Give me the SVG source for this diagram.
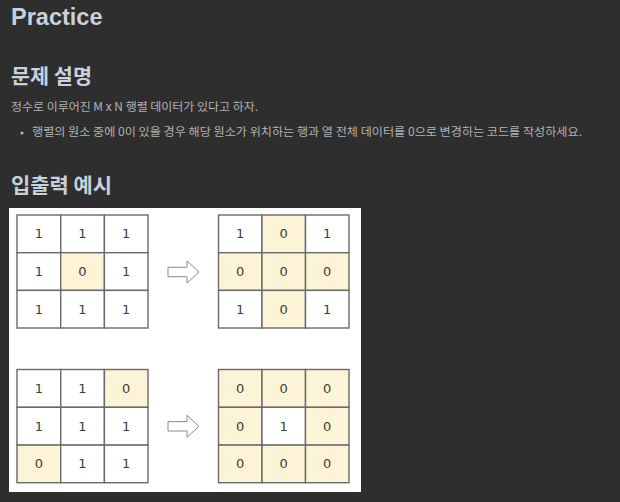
<svg xmlns="http://www.w3.org/2000/svg" width="620" height="502" viewBox="0 0 620 502">
<style>
.h1{font-family:"Liberation Sans","Noto Sans",sans-serif;font-weight:bold;font-size:23.5px;fill:#c9d1dc}
.h2{font-family:"Noto Sans CJK KR","Noto Sans",sans-serif;font-weight:bold;font-size:20.5px;fill:#c9d1dc}
.body{font-family:"Noto Sans CJK KR","Noto Sans",sans-serif;font-size:11.6px;fill:#b2b2b2}
.cell{fill:#ffffff;stroke:#6a6a6a;stroke-width:1.4}
.hi{fill:#fdf3d6;stroke:#6a6a6a;stroke-width:1.4}
.num{font-family:"DejaVu Sans",sans-serif;font-size:13px;fill:#3c3c3c;text-anchor:middle;dominant-baseline:central}
.arrow{fill:#ffffff;stroke:#8a8a8a;stroke-width:1}
</style>
<rect width="620" height="502" fill="#2e2e2e"/>
<text class="h1" x="11" y="25">Practice</text>
<text class="h2" x="11" y="84" textLength="81" lengthAdjust="spacingAndGlyphs">문제 설명</text>
<text class="body" x="11" y="111" textLength="247" lengthAdjust="spacingAndGlyphs">정수로 이루어진 M x N 행렬 데이터가 있다고 하자.</text>
<circle cx="22" cy="133" r="1.6" fill="#b2b2b2"/>
<text class="body" x="32" y="136" textLength="550" lengthAdjust="spacingAndGlyphs">행렬의 원소 중에 0이 있을 경우 해당 원소가 위치하는 행과 열 전체 데이터를 0으로 변경하는 코드를 작성하세요.</text>
<text class="h2" x="11" y="193" textLength="101" lengthAdjust="spacingAndGlyphs">입출력 예시</text>
<rect x="9" y="208" width="352" height="284" fill="#ffffff"/>

<g id="grid1-input">
<rect class="cell" x="17" y="215" width="43.7" height="37.7"/>
<rect class="cell" x="60.7" y="215" width="43.7" height="37.7"/>
<rect class="cell" x="104.4" y="215" width="43.6" height="37.7"/>
<rect class="cell" x="17" y="252.7" width="43.7" height="37.7"/>
<rect class="hi" x="60.7" y="252.7" width="43.7" height="37.7"/>
<rect class="cell" x="104.4" y="252.7" width="43.6" height="37.7"/>
<rect class="cell" x="17" y="290.4" width="43.7" height="37.6"/>
<rect class="cell" x="60.7" y="290.4" width="43.7" height="37.6"/>
<rect class="cell" x="104.4" y="290.4" width="43.6" height="37.6"/>
<text class="num" x="38.8" y="233.8">1</text><text class="num" x="82.5" y="233.8">1</text><text class="num" x="126.2" y="233.8">1</text>
<text class="num" x="38.8" y="271.5">1</text><text class="num" x="82.5" y="271.5">0</text><text class="num" x="126.2" y="271.5">1</text>
<text class="num" x="38.8" y="309.2">1</text><text class="num" x="82.5" y="309.2">1</text><text class="num" x="126.2" y="309.2">1</text>
</g>

<g id="grid1-output">
<rect class="cell" x="218.5" y="215" width="43.5" height="37.7"/>
<rect class="hi" x="262" y="215" width="43.5" height="37.7"/>
<rect class="cell" x="305.5" y="215" width="43.5" height="37.7"/>
<rect class="hi" x="218.5" y="252.7" width="43.5" height="37.7"/>
<rect class="hi" x="262" y="252.7" width="43.5" height="37.7"/>
<rect class="hi" x="305.5" y="252.7" width="43.5" height="37.7"/>
<rect class="cell" x="218.5" y="290.4" width="43.5" height="37.6"/>
<rect class="hi" x="262" y="290.4" width="43.5" height="37.6"/>
<rect class="cell" x="305.5" y="290.4" width="43.5" height="37.6"/>
<text class="num" x="240.2" y="233.8">1</text><text class="num" x="283.7" y="233.8">0</text><text class="num" x="327.2" y="233.8">1</text>
<text class="num" x="240.2" y="271.5">0</text><text class="num" x="283.7" y="271.5">0</text><text class="num" x="327.2" y="271.5">0</text>
<text class="num" x="240.2" y="309.2">1</text><text class="num" x="283.7" y="309.2">0</text><text class="num" x="327.2" y="309.2">1</text>
</g>

<g id="grid2-input">
<rect class="cell" x="17" y="369.5" width="43.7" height="37.8"/>
<rect class="cell" x="60.7" y="369.5" width="43.7" height="37.8"/>
<rect class="hi" x="104.4" y="369.5" width="43.6" height="37.8"/>
<rect class="cell" x="17" y="407.3" width="43.7" height="37.8"/>
<rect class="cell" x="60.7" y="407.3" width="43.7" height="37.8"/>
<rect class="cell" x="104.4" y="407.3" width="43.6" height="37.8"/>
<rect class="hi" x="17" y="445.1" width="43.7" height="37.6"/>
<rect class="cell" x="60.7" y="445.1" width="43.7" height="37.6"/>
<rect class="cell" x="104.4" y="445.1" width="43.6" height="37.6"/>
<text class="num" x="38.8" y="388.4">1</text><text class="num" x="82.5" y="388.4">1</text><text class="num" x="126.2" y="388.4">0</text>
<text class="num" x="38.8" y="426.2">1</text><text class="num" x="82.5" y="426.2">1</text><text class="num" x="126.2" y="426.2">1</text>
<text class="num" x="38.8" y="463.9">0</text><text class="num" x="82.5" y="463.9">1</text><text class="num" x="126.2" y="463.9">1</text>
</g>

<g id="grid2-output">
<rect class="hi" x="218.5" y="369.5" width="43.5" height="37.8"/>
<rect class="hi" x="262" y="369.5" width="43.5" height="37.8"/>
<rect class="hi" x="305.5" y="369.5" width="43.5" height="37.8"/>
<rect class="hi" x="218.5" y="407.3" width="43.5" height="37.8"/>
<rect class="cell" x="262" y="407.3" width="43.5" height="37.8"/>
<rect class="hi" x="305.5" y="407.3" width="43.5" height="37.8"/>
<rect class="hi" x="218.5" y="445.1" width="43.5" height="37.6"/>
<rect class="hi" x="262" y="445.1" width="43.5" height="37.6"/>
<rect class="hi" x="305.5" y="445.1" width="43.5" height="37.6"/>
<text class="num" x="240.2" y="388.4">0</text><text class="num" x="283.7" y="388.4">0</text><text class="num" x="327.2" y="388.4">0</text>
<text class="num" x="240.2" y="426.2">0</text><text class="num" x="283.7" y="426.2">1</text><text class="num" x="327.2" y="426.2">0</text>
<text class="num" x="240.2" y="463.9">0</text><text class="num" x="283.7" y="463.9">0</text><text class="num" x="327.2" y="463.9">0</text>
</g>

<g id="connectors">
<polygon class="arrow" points="168,267.3 187,267.3 187,261 199,272 187,283 187,276.7 168,276.7"/>
<polygon class="arrow" points="168,421.6 187,421.6 187,415.3 199,426.3 187,437.3 187,431 168,431"/>
</g>
</svg>
